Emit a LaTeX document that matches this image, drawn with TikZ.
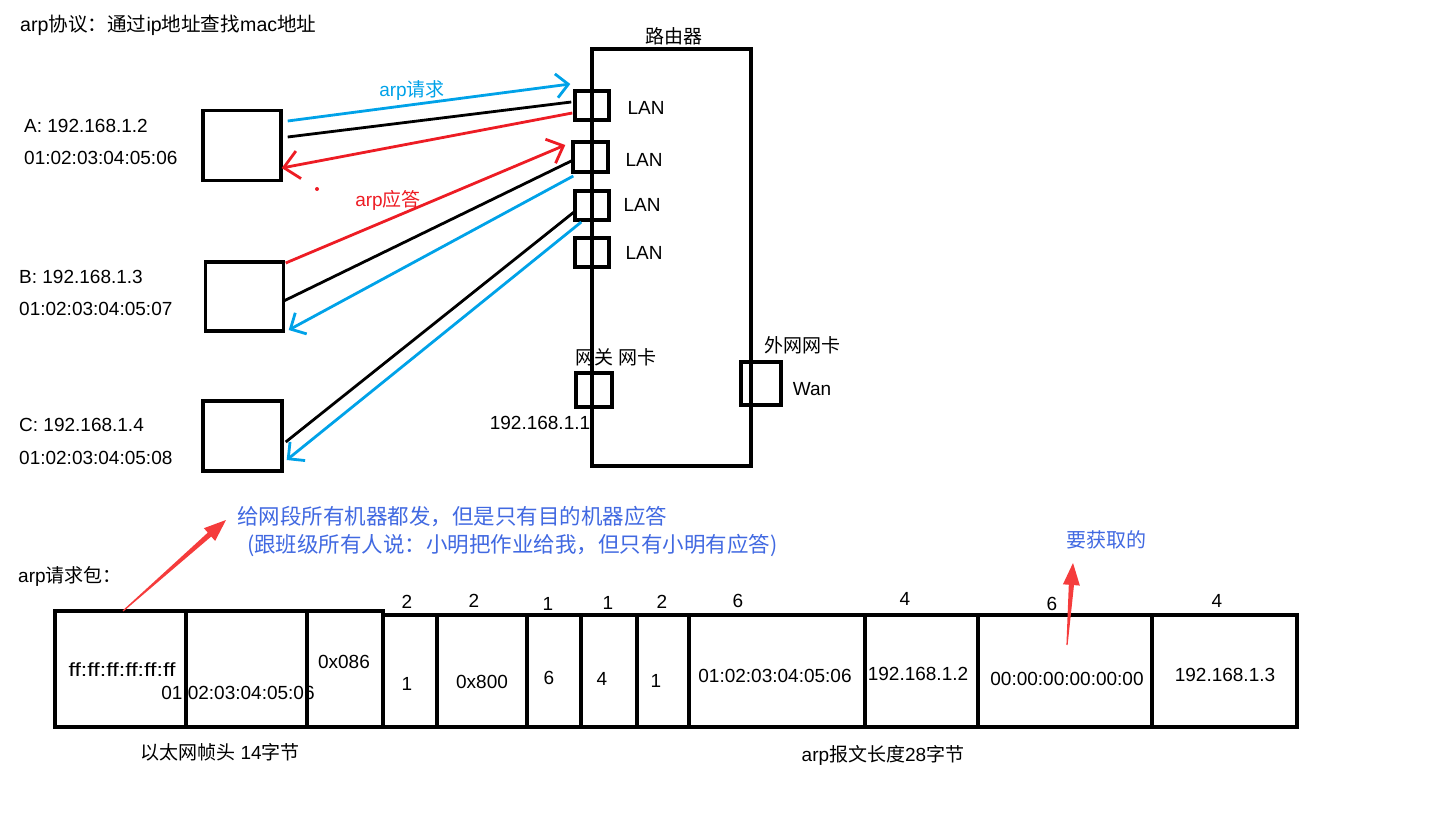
\documentclass[tikz,border=0pt]{standalone}
\usepackage{fontspec}
\setmainfont{Liberation Sans}
\newfontfamily\zh{Noto Sans CJK SC}
\usetikzlibrary{arrows.meta,calc}
\definecolor{pblue}{RGB}{0,162,232}
\definecolor{pred}{RGB}{237,28,36}
\definecolor{ablue}{RGB}{65,105,225}
\definecolor{ared}{RGB}{245,60,60}
\newcommand\taperarrow[2]{%
  \path (#2) coordinate (tp) ($(#2)!22pt!(#1)$) coordinate (bs);
  \fill[ared] ($(#1)!0.6pt!90:(bs)$) -- ($(bs)!2.6pt!-90:(#1)$) -- ($(bs)!8.5pt!-90:(#1)$)
    -- (tp) -- ($(bs)!8.5pt!90:(#1)$) -- ($(bs)!2.6pt!90:(#1)$) -- ($(#1)!0.6pt!-90:(bs)$) -- cycle;}
\begin{document}
\begin{tikzpicture}[x=1pt,y=-1pt,
  every node/.style={font=\fontsize{19}{23}\selectfont, inner sep=0pt},
  hostbox/.style={draw,line width=3.4pt,minimum width=78pt,minimum height=70pt},
  port/.style={draw,line width=3.4pt,minimum width=34pt,minimum height=29pt},
  cell/.style={draw,line width=3.4pt,minimum height=112pt},
  wire/.style={line width=2.8pt},
  req/.style={wire,draw=pblue},
  rep/.style={wire,draw=pred},
  barb/.style={-{Straight Barb[length=12pt,width=24pt]}},
  note/.style={text=ablue,font=\zh\fontsize{21.5}{25}\selectfont},
  lt/.style={anchor=west}]
\useasboundingbox (0,0) rectangle (1432,816);

% title
\node[lt,font=\fontsize{19.6}{23}\selectfont] (title) at (20,25) {arp{\zh 协议：通过}ip{\zh 地址查找}mac{\zh 地址}};

% hosts
\node[hostbox] (A) at (242,145.5) {};
\node[hostbox,minimum height=69pt] (B) at (244.5,296.5) {};
\node[hostbox,minimum width=79pt] (C) at (242.5,436) {};
\node[lt] (Aip) at (24,126) {A: 192.168.1.2};
\node[lt] (Amac) at (24,158) {01:02:03:04:05:06};
\node[lt] (Bip) at (19,277) {B: 192.168.1.3};
\node[lt] (Bmac) at (19,309) {01:02:03:04:05:07};
\node[lt] (Cip) at (19,425) {C: 192.168.1.4};
\node[lt] (Cmac) at (19,458) {01:02:03:04:05:08};

% router
\node[draw,line width=3.4pt,minimum width=159pt,minimum height=417pt] (R) at (671.5,257.5) {};
\node (Rlab) at (674,36) {\zh 路由器};
\node[port] (p1) at (592,105.5) {};
\node[port,minimum width=35pt,minimum height=30pt] (p2) at (590.5,157) {};
\node[port] (p3) at (592,205.5) {};
\node[port] (p4) at (592,252.5) {};
\node (l1) at (646,108) {LAN};
\node (l2) at (644,160) {LAN};
\node (l3) at (642,205) {LAN};
\node (l4) at (644,253) {LAN};
\node[port,minimum width=36pt,minimum height=34pt] (gw) at (594,390) {};
\node (gwlab) at (616,357) {\zh 网关 网卡};
\node (gwip) at (540,423) {192.168.1.1};
\node[port,minimum width=40pt,minimum height=43pt] (wan) at (761,383.5) {};
\node (wanlab) at (802,345) {\zh 外网网卡};
\node (wantxt) at (812,389) {Wan};

% connectors
\draw[req,barb] ([shift={(5,-24.5)}]A.east) -- ([shift={(-3,-21.5)}]p1.west);
\node[text=pblue] (reqlab) at (412,90) {arp{\zh 请求}};
\draw[wire] ([shift={(5,-8.5)}]A.east) -- ([shift={(-2,-3.5)}]p1.west);
\draw[rep,-{Straight Barb[length=15pt,width=28pt]}] ([shift={(-1,7.5)}]p1.west) -- ([shift={(-1,22.5)}]A.east);
\fill[pred] (317,189) circle (2pt);
\draw[rep,-{Straight Barb[length=14pt,width=26pt]}] ([shift={(0.5,-33.5)}]B.east) -- ([shift={(-6,-12)}]p2.west);
\node[text=pred] (replab) at (388,200) {arp{\zh 应答}};
\draw[wire] ([shift={(-1.5,4.5)}]B.east) -- ([shift={(2,3)}]p2.west);
\draw[req,barb] ([shift={(2,19)}]p2.west) -- ([shift={(3.5,33.5)}]B.east);
\draw[wire] ([shift={(2,6)}]C.east) -- ([shift={(2,5.5)}]p3.west);
\draw[req,barb] ([shift={(8,16.5)}]p3.west) -- ([shift={(3,24)}]C.east);

% annotations
\node[note,lt] (n1) at (237,517) {给网段所有机器都发，但是只有目的机器应答};
\node[note,lt] (n2) at (247,545) {(跟班级所有人说：小明把作业给我，但只有小明有应答)};
\node[lt] (pkt) at (18,576) {arp{\zh 请求包：}};
\node[note,font=\zh\fontsize{20}{24}\selectfont] (n3) at (1106,540) {要获取的};
\coordinate (t1) at (123,611);
\coordinate (h1) at (226,520);
\coordinate (t2) at (1067,645);
\coordinate (h2) at (1073,563);

% ethernet header
\node[cell,minimum width=131pt,minimum height=116pt] (e1) at (120.5,669) {};
\node[cell,minimum width=121pt,minimum height=116pt] (e2) at (246.5,669) {};
\node[cell,minimum width=76pt,minimum height=116pt] (e3) at (345,669) {};
\node (e1t) at (122,670) {\scalebox{1.22}[1]{ff:ff:ff:ff:ff:ff}};
\node (e2t) at (238,693) {01:02:03:04:05:06};
\node (e3t) at (344,662) {0x086};
\node (ehdr) at (220,752) {{\zh 以太网帧头} 14{\zh 字节}};

% arp body
\node[cell,minimum width=54pt] (a1) at (410,671) {};
\node[cell,minimum width=90pt] (a2) at (482,671) {};
\node[cell,minimum width=54pt] (a3) at (554,671) {};
\node[cell,minimum width=56pt] (a4) at (609,671) {};
\node[cell,minimum width=52pt] (a5) at (663,671) {};
\node[cell,minimum width=176pt] (a6) at (777,671) {};
\node[cell,minimum width=113pt] (a7) at (921.5,671) {};
\node[cell,minimum width=174pt] (a8) at (1065,671) {};
\node[cell,minimum width=145pt] (a9) at (1224.5,671) {};
\node (s1) at (407,602) {2};
\node (s2) at (474,601) {2};
\node (s3) at (548,604) {1};
\node (s4) at (608,603) {1};
\node (s5) at (662,602) {2};
\node (s6) at (738,601) {6};
\node (s7) at (905,599) {4};
\node (s8) at (1052,604) {6};
\node (s9) at (1217,601) {4};
\node (v1) at (407,684) {1};
\node (v2) at (482,682) {0x800};
\node (v3) at (549,678) {6};
\node (v4) at (602,679) {4};
\node (v5) at (656,681) {1};
\node (v6) at (775,676) {01:02:03:04:05:06};
\node (v7) at (918,674) {192.168.1.2};
\node (v8) at (1067,679) {00:00:00:00:00:00};
\node (v9) at (1225,675) {192.168.1.3};
\node (abody) at (883,755) {arp{\zh 报文长度}28{\zh 字节}};

\taperarrow{t1}{h1}
\taperarrow{t2}{h2}
\end{tikzpicture}
\end{document}
